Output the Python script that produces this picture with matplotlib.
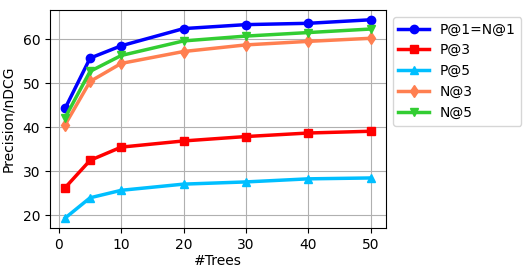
import matplotlib
matplotlib.use("Agg")
import matplotlib.pyplot as plt

trees = [1, 5, 10, 20, 30, 40, 50]
p1 = [44.3, 55.7, 58.5, 62.4, 63.3, 63.6, 64.4]
p3 = [26.3, 32.5, 35.5, 36.9, 37.9, 38.7, 39.1]
p5 = [19.4, 24.0, 25.7, 27.1, 27.6, 28.3, 28.5]
n3 = [40.6, 50.4, 54.5, 57.2, 58.7, 59.5, 60.2]
n5 = [42.2, 52.7, 56.3, 59.6, 60.7, 61.5, 62.3]

series = [
    ("P@1=N@1", p1, "#0000ff", "o"),
    ("P@3", p3, "#ff0000", "s"),
    ("P@5", p5, "#00bfff", "^"),
    ("N@3", n3, "#ff7f50", "d"),
    ("N@5", n5, "#32cd32", "v"),
]

fig = plt.figure(figsize=(5.25, 2.74), dpi=100)
ax = fig.add_axes([0.095, 0.168, 0.64, 0.796])
for label, vals, color, marker in series:
    ax.plot(trees, vals, color=color, marker=marker, lw=2.5, ms=6, label=label)

ax.set_xticks([0, 10, 20, 30, 40, 50])
ax.set_yticks([20, 30, 40, 50, 60])
ax.tick_params(labelsize=10)
ax.grid(True, color="#b0b0b0", lw=0.8)
ax.set_xlabel("#Trees", fontsize=10, labelpad=2)
ax.set_ylabel("Precision/nDCG", fontsize=10, labelpad=5)
ax.legend(loc="upper left", bbox_to_anchor=(1.0, 1.0), fontsize=10,
          handlelength=2.2, labelspacing=0.5)
fig.savefig("out.png", dpi=100)
